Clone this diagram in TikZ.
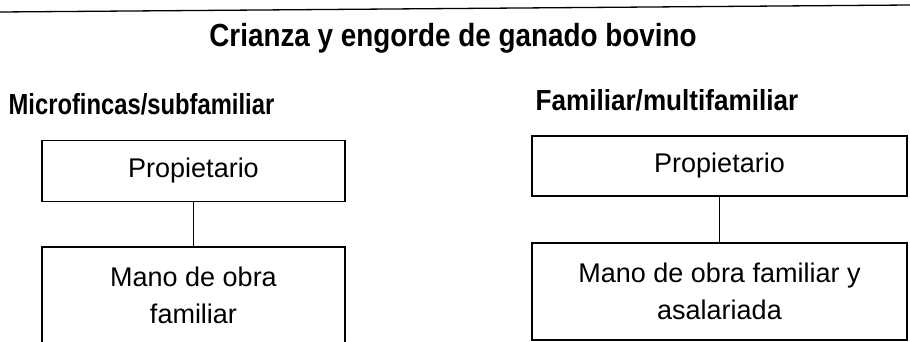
\documentclass[tikz,border=0pt]{standalone}
\usepackage{fontspec}
\setmainfont{Liberation Sans}
\newfontfamily\fuentetit[FakeStretch=0.87]{Liberation Sans}
\newfontfamily\fuentesub[FakeStretch=0.82]{Liberation Sans}
\newfontfamily\fuentesubD[FakeStretch=0.9]{Liberation Sans}
\usetikzlibrary{positioning}
\tikzset{
  every path/.style={
    black,
    line width=1.3pt
  },
  caja/.style={
    draw,
    rectangle,
    inner sep=0pt,
    align=center,
    font=\fontsize{27}{37}\selectfont
  },
  titulo/.style={
    inner sep=0pt,
    font=\fuentetit\bfseries\fontsize{32}{36}\selectfont
  },
  subtitulo/.style={
    inner sep=0pt,
    anchor=west,
    font=\fuentesub\bfseries\fontsize{29}{33}\selectfont
  }
}

\begin{document}
\begin{tikzpicture}[x=1pt,y=-1pt]
    \useasboundingbox (0,0) rectangle (910,342);

    %-------------------------
    % cabecera
    %-------------------------
    \coordinate (lineaI) at (0,12);
    \coordinate (lineaD) at (910,5);
    \draw (lineaI) -- (lineaD);
    \node[titulo] (tit) at (453,38) {Crianza y engorde de ganado bovino};

    %-------------------------
    % izquierda: microfincas
    %-------------------------
    \node[subtitulo] (subI) at (8,104) {Microfincas/subfamiliar};
    \node[caja, minimum width=303, minimum height=61] (propI) at (193.5,171) {Propietario};
    \node[caja, minimum width=303, minimum height=97] (manoI) at (193.5,295.5) {Mano de obra\\familiar};
    \draw (propI) -- (manoI);

    %-------------------------
    % derecha: familiar
    %-------------------------
    \node[subtitulo, font=\fuentesubD\bfseries\fontsize{29}{33}\selectfont] (subD) at (535,100) {Familiar/multifamiliar};
    \node[caja, minimum width=375, minimum height=60] (propD) at (719.5,166) {Propietario};
    \node[caja, minimum width=375, minimum height=97] (manoD) at (719.5,291.5) {Mano de obra familiar y\\asalariada};
    \draw (propD) -- (manoD);
\end{tikzpicture}
\end{document}
